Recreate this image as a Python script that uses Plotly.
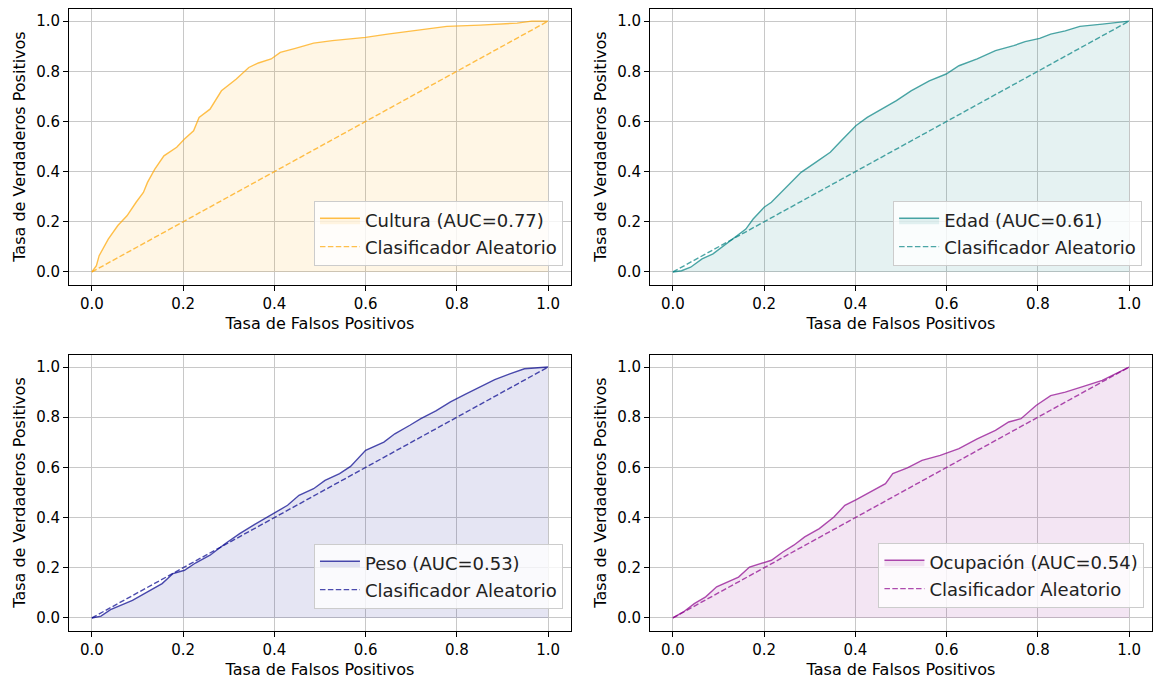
import plotly.graph_objects as go

# ---------------- data ----------------
fpr_cultura = [0.0, 0.01, 0.016, 0.024, 0.036, 0.057, 0.077, 0.097, 0.113, 0.122, 0.138, 0.158,
               0.186, 0.203, 0.223, 0.235, 0.259, 0.284, 0.316, 0.344, 0.365, 0.393, 0.413,
               0.446, 0.486, 0.527, 0.567, 0.600, 0.648, 0.689, 0.729, 0.778, 0.851, 0.932,
               0.964, 1.0]
tpr_cultura = [0.0, 0.025, 0.065, 0.092, 0.131, 0.185, 0.224, 0.278, 0.317, 0.357, 0.410, 0.463,
               0.497, 0.530, 0.563, 0.616, 0.649, 0.722, 0.768, 0.815, 0.833, 0.849, 0.875,
               0.891, 0.912, 0.922, 0.928, 0.935, 0.948, 0.958, 0.965, 0.979, 0.984, 0.992,
               1.0, 1.0]

fpr_edad = [0.0, 0.019, 0.039, 0.064, 0.088, 0.112, 0.144, 0.160, 0.176, 0.200, 0.216, 0.237,
            0.257, 0.281, 0.313, 0.345, 0.369, 0.401, 0.426, 0.458, 0.490, 0.522, 0.562, 0.599,
            0.627, 0.667, 0.707, 0.747, 0.772, 0.804, 0.828, 0.860, 0.892, 0.941, 1.0]
tpr_edad = [0.0, 0.005, 0.019, 0.052, 0.072, 0.105, 0.151, 0.171, 0.211, 0.258, 0.278, 0.317,
            0.351, 0.397, 0.437, 0.477, 0.523, 0.583, 0.616, 0.649, 0.683, 0.722, 0.762, 0.789,
            0.822, 0.849, 0.882, 0.902, 0.918, 0.931, 0.948, 0.961, 0.979, 0.988, 1.0]

fpr_peso = [0.0, 0.020, 0.041, 0.065, 0.089, 0.122, 0.154, 0.178, 0.203, 0.227, 0.259, 0.292,
            0.324, 0.357, 0.397, 0.429, 0.454, 0.486, 0.511, 0.543, 0.567, 0.600, 0.640, 0.664,
            0.697, 0.721, 0.754, 0.786, 0.818, 0.851, 0.883, 0.916, 0.948, 1.0]
tpr_peso = [0.0, 0.007, 0.033, 0.050, 0.070, 0.104, 0.137, 0.177, 0.190, 0.219, 0.250, 0.296,
            0.336, 0.373, 0.416, 0.449, 0.489, 0.515, 0.548, 0.575, 0.604, 0.668, 0.701, 0.734,
            0.768, 0.794, 0.825, 0.861, 0.891, 0.920, 0.950, 0.973, 0.993, 1.0]

fpr_ocupacion = [0.0, 0.023, 0.047, 0.072, 0.096, 0.120, 0.144, 0.168, 0.192, 0.216, 0.241, 0.265,
                 0.289, 0.321, 0.353, 0.377, 0.401, 0.434, 0.466, 0.482, 0.514, 0.546, 0.586,
                 0.627, 0.667, 0.707, 0.736, 0.763, 0.796, 0.828, 0.860, 0.900, 0.941, 1.0]
tpr_ocupacion = [0.0, 0.024, 0.057, 0.084, 0.124, 0.143, 0.163, 0.203, 0.216, 0.230, 0.263, 0.290,
                 0.323, 0.356, 0.402, 0.449, 0.471, 0.502, 0.535, 0.575, 0.598, 0.628, 0.648,
                 0.675, 0.714, 0.748, 0.781, 0.794, 0.847, 0.886, 0.900, 0.923, 0.947, 1.0]

names = ["Cultura", "Edad", "Peso", "Ocupación"]
aucs = [0.77, 0.61, 0.53, 0.54]
diag_x = [0.0, 1.0]
diag_y = [0.0, 1.0]
tick_vals = [0.0, 0.2, 0.4, 0.6, 0.8, 1.0]
tick_text = ["0.0", "0.2", "0.4", "0.6", "0.8", "1.0"]

curves = [(fpr_cultura, tpr_cultura), (fpr_edad, tpr_edad),
          (fpr_peso, tpr_peso), (fpr_ocupacion, tpr_ocupacion)]

# ---------------- styling ----------------
base_rgb = [(255, 165, 0), (0, 128, 128), (0, 0, 139), (139, 0, 139)]
FONT = "DejaVu Sans"

x_domains = [[0.0597, 0.4939], [0.5623, 0.9965], [0.0597, 0.4939], [0.5623, 0.9965]]
y_domains = [[0.5828, 0.9875], [0.5828, 0.9875], [0.0755, 0.4802], [0.0755, 0.4802]]
legend_pos = [(0.487, 0.610), (0.988, 0.610), (0.487, 0.107), (0.990, 0.1085)]

fig = go.Figure()
layout = dict(
    width=1156, height=682,
    margin=dict(l=0, r=0, t=0, b=0),
    paper_bgcolor="white", plot_bgcolor="white",
    font=dict(family=FONT, color="black", size=15),
)

for i, ((fx, fy), name, auc, rgb) in enumerate(zip(curves, names, aucs, base_rgb)):
    k = i + 1
    sx = "" if k == 1 else str(k)
    leg = "legend" if k == 1 else f"legend{k}"
    line_col = f"rgba({rgb[0]},{rgb[1]},{rgb[2]},0.7)"
    fill_col = f"rgba({rgb[0]},{rgb[1]},{rgb[2]},0.1)"
    fig.add_trace(go.Scatter(
        x=fx, y=fy, mode="lines", name=f"{name} (AUC={auc:.2f})",
        line=dict(color=line_col, width=1.4), fill="tozeroy", fillcolor=fill_col,
        xaxis="x" + sx, yaxis="y" + sx, legend=leg, hoverinfo="skip"))
    fig.add_trace(go.Scatter(
        x=diag_x, y=diag_y, mode="lines", name="Clasificador Aleatorio",
        line=dict(color=line_col, width=1.4, dash="5.5px,2.4px"),
        xaxis="x" + sx, yaxis="y" + sx, legend=leg, hoverinfo="skip"))

    axis_common = dict(
        range=[-0.05, 1.05], tickvals=tick_vals, ticktext=tick_text,
        showgrid=True, gridcolor="#c8c8c8", gridwidth=1,
        showline=True, linecolor="black", linewidth=1, mirror=True,
        ticks="outside", ticklen=5, tickcolor="black", tickwidth=1,
        zeroline=False, tickfont=dict(size=15, family=FONT, color="black"),
        fixedrange=True,
    )
    layout["xaxis" + sx] = dict(axis_common, domain=x_domains[i], anchor="y" + sx,
                                title=dict(text="Tasa de Falsos Positivos",
                                           font=dict(size=16, family=FONT), standoff=6))
    layout["yaxis" + sx] = dict(axis_common, domain=y_domains[i], anchor="x" + sx,
                                title=dict(text="Tasa de Verdaderos Positivos",
                                           font=dict(size=16, family=FONT), standoff=6))
    lx, ly = legend_pos[i]
    layout[leg] = dict(x=lx, y=ly, xanchor="right", yanchor="bottom",
                       bgcolor="rgba(255,255,255,0.8)", bordercolor="#cccccc", borderwidth=1,
                       font=dict(size=18, family=FONT, color="#222222"),
                       tracegroupgap=0, itemwidth=40)

fig.update_layout(**layout)
fig.write_html("out.html")
